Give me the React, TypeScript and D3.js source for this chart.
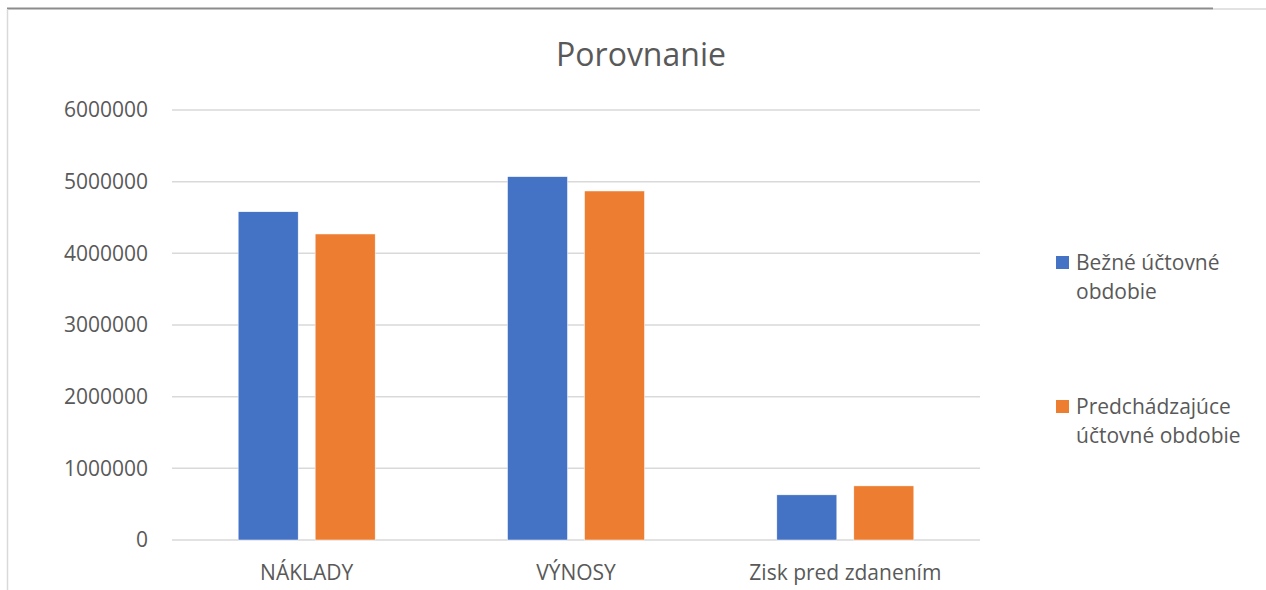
import * as d3 from 'd3';

const categories = ['NÁKLADY', 'VÝNOSY', 'Zisk pred zdanením'];
const seriesNames = ['Bežné účtovné obdobie', 'Predchádzajúce účtovné obdobie'];
const currentPeriod = [4580000, 5070000, 630000];
const previousPeriod = [4270000, 4870000, 755000];
const yTicks = [0, 1000000, 2000000, 3000000, 4000000, 5000000, 6000000];
const legendLines = [['Bežné účtovné', 'obdobie'], ['Predchádzajúce', 'účtovné obdobie']];

const colors = ['#4472C4', '#ED7D31'];
const textColor = '#595959';
const font = '"Open Sans", "Noto Sans", sans-serif';

export default function App() {
  const width = 1266;
  const height = 590;
  const plot = { left: 172, right: 980, top: 110, bottom: 540 };

  const x = d3.scaleBand<string>().domain(categories).range([plot.left, plot.right]);
  const y = d3.scaleLinear().domain([0, 6000000]).range([plot.bottom, plot.top]);

  const barW = 60;
  const gap = 17;
  const series = [currentPeriod, previousPeriod];

  return (
    <svg
      width={width}
      height={height}
      style={{ position: 'absolute', left: 0, top: 0, background: '#fff' }}
      fontFamily={font}
    >
      {/* frame edges */}
      <line x1={7} x2={1213} y1={8.5} y2={8.5} stroke="#8c8c8c" strokeWidth={2} />
      <line x1={1213} x2={1266} y1={9} y2={9} stroke="#d9d9d9" strokeWidth={1.5} />
      <line x1={7.5} x2={7.5} y1={9} y2={590} stroke="#d9d9d9" strokeWidth={1.5} />

      <text x={641} y={66} textAnchor="middle" fontSize={32} fill={textColor}>
        Porovnanie
      </text>

      {yTicks.map(t => (
        <g key={t}>
          <line x1={plot.left} x2={plot.right} y1={y(t)} y2={y(t)} stroke="#d9d9d9" strokeWidth={1.5} />
          <text x={148} y={y(t)} dy="0.35em" textAnchor="end" fontSize={21} fill={textColor}>
            {t}
          </text>
        </g>
      ))}

      {categories.map((c, i) => {
        const cx = x(c)! + x.bandwidth() / 2;
        return (
          <g key={c}>
            {series.map((vals, s) => {
              const bx = cx - gap / 2 - barW + s * (barW + gap);
              return (
                <rect
                  key={s}
                  x={bx}
                  y={y(vals[i])}
                  width={barW}
                  height={y(0) - y(vals[i])}
                  fill={colors[s]}
                  stroke="#fff"
                  strokeWidth={0.5}
                />
              );
            })}
            <text x={cx} y={580} textAnchor="middle" fontSize={21} fill={textColor}>
              {c}
            </text>
          </g>
        );
      })}

      {seriesNames.map((name, s) => {
        const top = s === 0 ? 256 : 400;
        return (
          <g key={name}>
            <rect x={1056} y={top} width={13} height={13} fill={colors[s]} />
            {legendLines[s].map((ln, k) => (
              <text key={k} x={1076} y={top + 14 + k * 29} fontSize={21} fill={textColor}>
                {ln}
              </text>
            ))}
          </g>
        );
      })}
    </svg>
  );
}
